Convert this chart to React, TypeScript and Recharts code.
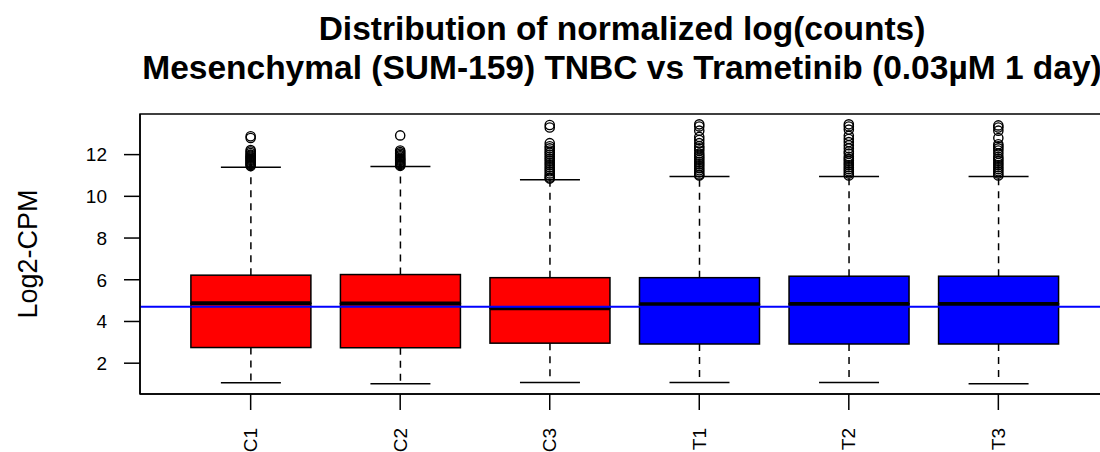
import React from "react";
import { ComposedChart, Bar, Scatter, XAxis, YAxis, ReferenceLine, ReferenceArea } from "recharts";

// Boxplot summary per library (log2-CPM)
const samples = ["C1", "C2", "C3", "T1", "T2", "T3"];
const groups = ["control", "control", "control", "treated", "treated", "treated"];
const lowerWhisker = [1.06, 1.02, 1.08, 1.07, 1.07, 1.02];
const lowerQuartile = [2.75, 2.74, 2.96, 2.92, 2.92, 2.92];
const medians = [4.87, 4.86, 4.63, 4.82, 4.84, 4.84];
const upperQuartile = [6.22, 6.25, 6.1, 6.1, 6.17, 6.17];
const upperWhisker = [11.4, 11.43, 10.8, 10.95, 10.95, 10.95];

const outliersC1 = [12.88, 12.8, 12.22, 12.15, 12.08, 12.0, 11.95, 11.9, 11.85, 11.8, 11.75, 11.7, 11.65, 11.6, 11.55, 11.5, 11.45];
const outliersC2 = [12.92, 12.2, 12.12, 12.05, 11.98, 11.92, 11.85, 11.8, 11.75, 11.7, 11.65, 11.6, 11.55, 11.5, 11.46];
const outliersC3 = [13.42, 13.3, 12.55, 12.4, 12.3, 12.2, 12.1, 12.0, 11.9, 11.8, 11.7, 11.6, 11.5, 11.4, 11.3, 11.2, 11.1, 11.0, 10.9, 10.85];
const outliersT1 = [13.45, 13.35, 13.15, 12.85, 12.7, 12.55, 12.4, 12.3, 12.2, 12.05, 11.95, 11.85, 11.75, 11.65, 11.55, 11.45, 11.35, 11.25, 11.15, 11.05, 11.0];
const outliersT2 = [13.45, 13.35, 13.2, 12.9, 12.75, 12.6, 12.45, 12.3, 12.15, 12.05, 11.9, 11.8, 11.7, 11.6, 11.5, 11.4, 11.3, 11.2, 11.1, 11.0];
const outliersT3 = [13.4, 13.3, 13.15, 12.8, 12.5, 12.4, 12.3, 12.2, 12.05, 11.9, 11.8, 11.7, 11.6, 11.5, 11.4, 11.3, 11.2, 11.1, 11.0];

// median of all libraries, drawn across the plot
const overallMedian = 4.71;

const yTicks = [2, 4, 6, 8, 10, 12];

const groupColor: Record<string, string> = { control: "#ff0000", treated: "#0000ff" };
const FONT = "'Liberation Sans', Arial, Helvetica, sans-serif";

const allOutliers = [outliersC1, outliersC2, outliersC3, outliersT1, outliersT2, outliersT3];

// stacked segments: invisible base, lower whisker, lower box, upper box, upper whisker
const boxRows = samples.map((name, i) => ({
  pos: i + 1,
  name,
  group: groups[i],
  base: lowerWhisker[i],
  lowW: lowerQuartile[i] - lowerWhisker[i],
  lowBox: medians[i] - lowerQuartile[i],
  highBox: upperQuartile[i] - medians[i],
  highW: upperWhisker[i] - upperQuartile[i],
}));

const outlierRows = allOutliers.flatMap((vals, i) => vals.map((v) => ({ pos: i + 1, value: v })));

// R-style axis range: data range plus 4% either side
const yLo = Math.min(...lowerWhisker);
const yHi = Math.max(...allOutliers.flat());
const yPad = (yHi - yLo) * 0.04;
const yDomain = [yLo - yPad, yHi + yPad];
const xDomain = [0.5 - 0.24, samples.length + 0.5 + 0.24];

const LINE = 1.5;

const Empty = () => <g />;

const LowerWhisker = (props: any) => {
  const { x, y, width, height } = props;
  const cx = x + width / 2;
  return (
    <g>
      <line x1={cx} x2={cx} y1={y} y2={y + height} stroke="#000" strokeWidth={LINE} strokeDasharray="7 6" />
      <line x1={cx - width / 4} x2={cx + width / 4} y1={y + height} y2={y + height} stroke="#000" strokeWidth={LINE} />
    </g>
  );
};

const UpperWhisker = (props: any) => {
  const { x, y, width, height } = props;
  const cx = x + width / 2;
  return (
    <g>
      <line x1={cx} x2={cx} y1={y + height} y2={y} stroke="#000" strokeWidth={LINE} strokeDasharray="7 6" />
      <line x1={cx - width / 4} x2={cx + width / 4} y1={y} y2={y} stroke="#000" strokeWidth={LINE} />
    </g>
  );
};

const LowerBox = (props: any) => {
  const { x, y, width, height, payload } = props;
  return (
    <rect x={x} y={y} width={width} height={height} fill={groupColor[payload.group]} stroke="#000" strokeWidth={LINE} />
  );
};

// upper half of the box, with the thick median line on its lower edge
const UpperBox = (props: any) => {
  const { x, y, width, height, payload } = props;
  return (
    <g>
      <rect x={x} y={y} width={width} height={height} fill={groupColor[payload.group]} stroke="#000" strokeWidth={LINE} />
      <line x1={x} x2={x + width} y1={y + height} y2={y + height} stroke="#000" strokeWidth={4} />
    </g>
  );
};

const Outlier = (props: any) => {
  const { cx, cy } = props;
  return <circle cx={cx} cy={cy} r={4.6} fill="none" stroke="#000" strokeWidth={1.4} />;
};

const SampleTick = (props: any) => {
  const { x, y, payload } = props;
  return (
    <text
      x={x}
      y={y}
      dy="0.35em"
      textAnchor="end"
      transform={`rotate(-90, ${x}, ${y})`}
      fontSize={19}
      fontFamily={FONT}
      fill="#000"
    >
      {samples[payload.value - 1]}
    </text>
  );
};

export default function App() {
  return (
    <div style={{ position: "absolute", left: 0, top: 0, width: 1100, height: 452, overflow: "hidden", background: "#fff" }}>
      <ComposedChart
        width={1160}
        height={452}
        data={boxRows}
        margin={{ top: 114, right: 51, bottom: 0, left: 0 }}
      >
        <XAxis
          dataKey="pos"
          type="number"
          domain={xDomain}
          ticks={[1, 2, 3, 4, 5, 6]}
          interval={0}
          allowDataOverflow
          height={58}
          tickSize={16}
          tickMargin={18}
          tick={<SampleTick />}
          tickLine={{ stroke: "#000", strokeWidth: LINE }}
          axisLine={{ stroke: "#000", strokeWidth: LINE }}
        />
        <YAxis
          type="number"
          domain={yDomain}
          ticks={yTicks}
          allowDataOverflow
          width={140}
          tickSize={16}
          tickMargin={17}
          tick={{ fill: "#000", fontSize: 19, fontFamily: FONT }}
          tickLine={{ stroke: "#000", strokeWidth: LINE }}
          axisLine={{ stroke: "#000", strokeWidth: LINE }}
        />
        {/* plot frame */}
        <ReferenceArea
          x1={xDomain[0]}
          x2={xDomain[1]}
          y1={yDomain[0]}
          y2={yDomain[1]}
          fill="none"
          fillOpacity={0}
          stroke="#000"
          strokeWidth={LINE}
        />
        <Bar dataKey="base" stackId="box" barSize={120} shape={<Empty />} isAnimationActive={false} />
        <Bar dataKey="lowW" stackId="box" barSize={120} shape={<LowerWhisker />} isAnimationActive={false} />
        <Bar dataKey="lowBox" stackId="box" barSize={120} shape={<LowerBox />} isAnimationActive={false} />
        <Bar dataKey="highBox" stackId="box" barSize={120} shape={<UpperBox />} isAnimationActive={false} />
        <Bar dataKey="highW" stackId="box" barSize={120} shape={<UpperWhisker />} isAnimationActive={false} />
        <Scatter data={outlierRows} dataKey="value" shape={<Outlier />} isAnimationActive={false} />
        <ReferenceLine y={overallMedian} stroke="#0000ff" strokeWidth={2} />
      </ComposedChart>
      <svg width={1100} height={452} style={{ position: "absolute", left: 0, top: 0, pointerEvents: "none" }}>
        <g fontFamily={FONT} fontWeight="bold" fontSize={33.5} textAnchor="middle" fill="#000">
          <text x={622} y={40}>Distribution of normalized log(counts)</text>
          <text x={622} y={79}>Mesenchymal (SUM-159) TNBC vs Trametinib (0.03µM 1 day)</text>
        </g>
        <text
          transform="translate(37, 254) rotate(-90)"
          textAnchor="middle"
          fontFamily={FONT}
          fontSize={27}
          fill="#000"
        >
          Log2-CPM
        </text>
      </svg>
    </div>
  );
}
